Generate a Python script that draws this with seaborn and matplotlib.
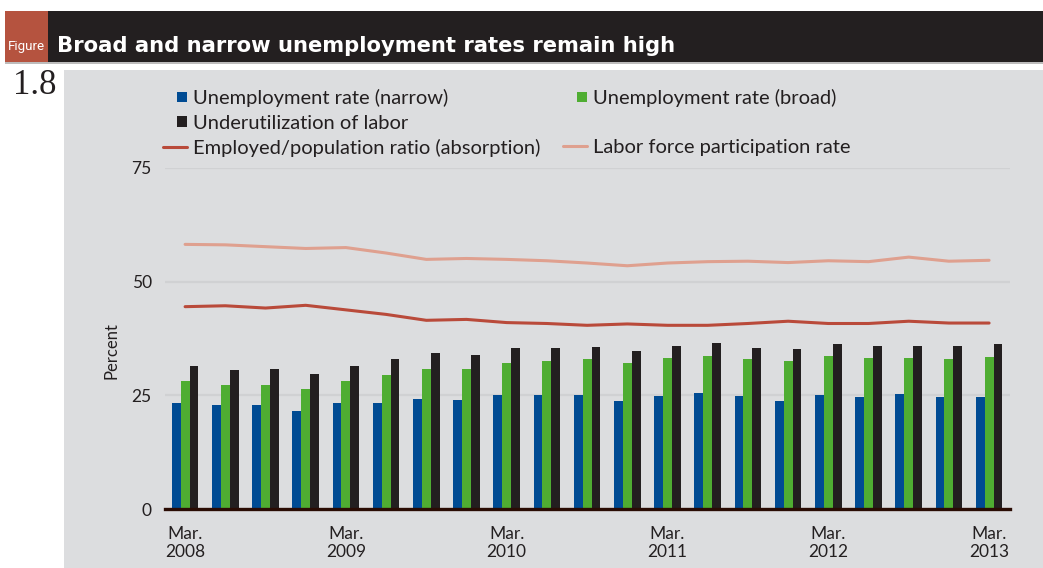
import numpy as np
import pandas as pd
import matplotlib
matplotlib.use("Agg")
import matplotlib.pyplot as plt
from matplotlib.patches import Rectangle
from matplotlib.lines import Line2D
from matplotlib.legend_handler import HandlerPatch
import seaborn as sns

# ---------------- data ----------------
quarters = ["Mar. 2008", "Jun. 2008", "Sep. 2008", "Dec. 2008",
            "Mar. 2009", "Jun. 2009", "Sep. 2009", "Dec. 2009",
            "Mar. 2010", "Jun. 2010", "Sep. 2010", "Dec. 2010",
            "Mar. 2011", "Jun. 2011", "Sep. 2011", "Dec. 2011",
            "Mar. 2012", "Jun. 2012", "Sep. 2012", "Dec. 2012",
            "Mar. 2013"]
narrow = [23.4, 22.9, 22.9, 21.6, 23.4, 23.4, 24.2, 24.0, 25.1, 25.1, 25.1,
          23.8, 24.9, 25.6, 24.9, 23.8, 25.1, 24.7, 25.4, 24.7, 24.7]
broad = [28.2, 27.3, 27.3, 26.4, 28.2, 29.5, 30.8, 30.8, 32.2, 32.6, 33.0,
         32.2, 33.2, 33.7, 33.0, 32.6, 33.7, 33.2, 33.2, 33.0, 33.5]
underutil = [31.5, 30.6, 30.8, 29.7, 31.5, 33.0, 34.4, 33.9, 35.5, 35.5, 35.7,
             34.8, 35.9, 36.6, 35.5, 35.3, 36.3, 35.9, 35.9, 35.9, 36.3]
absorption = [44.5, 44.7, 44.2, 44.8, 43.8, 42.8, 41.5, 41.7, 41.0, 40.8, 40.4,
              40.7, 40.4, 40.4, 40.8, 41.3, 40.8, 40.8, 41.3, 40.9, 40.9]
participation = [58.2, 58.1, 57.7, 57.3, 57.5, 56.3, 54.9, 55.1, 54.9, 54.6, 54.1,
                 53.5, 54.1, 54.4, 54.5, 54.2, 54.6, 54.4, 55.4, 54.5, 54.7]

bar_names = ["Unemployment rate (narrow)", "Unemployment rate (broad)",
             "Underutilization of labor"]
line_names = ["Employed/population ratio (absorption)",
              "Labor force participation rate"]
title = "Broad and narrow unemployment rates remain high"
yticks = [0, 25, 50, 75]

# ---------------- styles ----------------
BLUE, GREEN, BLACK = "#004b93", "#4fad32", "#231f20"
RED, SALMON = "#b94a3a", "#dfa08f"
BG = "#dcdddf"
TXT = "#231f20"

sns.set_theme(style="white")
plt.rcParams["font.family"] = ["Lato", "DejaVu Sans"]

W, H = 1043, 568
fig = plt.figure(figsize=(W / 100, H / 100), dpi=100)
fig.patch.set_facecolor("white")

def fx(px):
    return px / W

def fy(py):
    return 1 - py / H

# gray panel, title bar, red box (behind the axes)
fig.patches.append(Rectangle((fx(64), 0), fx(W) - fx(64), fy(70), transform=fig.transFigure,
                             facecolor=BG, edgecolor="none", zorder=-5))
fig.patches.append(Rectangle((fx(5), fy(62)), 1 - fx(5), fy(11) - fy(62), transform=fig.transFigure,
                             facecolor="#231f20", edgecolor="none", zorder=-5))
fig.patches.append(Rectangle((fx(5), fy(63.5)), 1 - fx(5), fy(62) - fy(63.5), transform=fig.transFigure,
                             facecolor="#bdbcbc", edgecolor="none", zorder=-5))
fig.patches.append(Rectangle((fx(5), fy(62)), fx(47.5) - fx(5), fy(11) - fy(62), transform=fig.transFigure,
                             facecolor="#b5533f", edgecolor="none", zorder=-4))

fig.text(fx(26.5), fy(46.5), "Figure", color="white", ha="center", va="center",
         fontsize=9.6, family=["Roboto", "DejaVu Sans"])
fig.text(fx(57), fy(46), title, color="white", ha="left", va="center",
         fontsize=15.2, fontweight="bold", family=["DejaVu Sans"])
fig.text(fx(13), fy(86), "1.8", color="#231f20", ha="left", va="center",
         fontsize=25, family=["Liberation Serif", "DejaVu Serif"])

# ---------------- axes ----------------
ax_left, ax_right, ax_bottom, ax_top = 165, 1010, 509, 168
ax = fig.add_axes([fx(ax_left), fy(ax_bottom), fx(ax_right) - fx(ax_left), fy(ax_top) - fy(ax_bottom)])
ax.set_facecolor("none")
ax.set_zorder(2)

df = pd.DataFrame({
    "quarter": np.repeat(quarters, 3),
    "series": bar_names * len(quarters),
    "value": np.ravel(np.column_stack([narrow, broad, underutil])),
})
sns.barplot(data=df, x="quarter", y="value", hue="series", hue_order=bar_names,
            palette=[BLUE, GREEN, BLACK], saturation=1, width=0.66, gap=0,
            ax=ax, legend=False, zorder=3, linewidth=0)

xpos = np.arange(len(quarters))
ldf = pd.DataFrame({"x": np.tile(xpos, 2),
                    "value": absorption + participation,
                    "series": np.repeat(line_names, len(quarters))})
sns.lineplot(data=ldf, x="x", y="value", hue="series", hue_order=line_names,
             palette=[RED, SALMON], linewidth=2.2, ax=ax, legend=False, zorder=4)

ax.set_xlim(-0.5, 20.52)
ax.set_ylim(0, 75)
ax.set_yticks(yticks)
ax.set_yticklabels([str(v) for v in yticks], fontsize=12.5, color=TXT)
tick_idx = [i for i, q in enumerate(quarters) if q.startswith("Mar.")]
ax.set_xticks(tick_idx)
ax.set_xticklabels([quarters[i].replace(" ", "\n") for i in tick_idx],
                   fontsize=12.5, color=TXT, linespacing=1.2)
ax.tick_params(axis="both", length=0)
ax.tick_params(axis="x", pad=12)
ax.tick_params(axis="y", pad=9.5)
ax.set_xlabel("")
ax.set_ylabel("Percent", fontsize=12, color=TXT)
ax.yaxis.set_label_coords(-0.054, 0.466)

ax.grid(axis="y", color="#d0d1d3", linewidth=1.6, zorder=1)
ax.grid(axis="x", visible=False)
ax.set_axisbelow(True)
for s in ["left", "right", "top"]:
    ax.spines[s].set_visible(False)
ax.spines["bottom"].set_color("#2a0c04")
ax.spines["bottom"].set_linewidth(2.4)
ax.spines["bottom"].set_zorder(5)

# ---------------- legend ----------------
class RightSquare(HandlerPatch):
    def create_artists(self, legend, orig_handle, xdescent, ydescent, width, height, fontsize, trans):
        s = height * 0.72
        p = Rectangle((width - xdescent - s, -ydescent + (height - s) / 2), s, s,
                      facecolor=orig_handle.get_facecolor(), edgecolor="none", transform=trans)
        return [p]

h_narrow = Rectangle((0, 0), 1, 1, facecolor=BLUE)
h_broad = Rectangle((0, 0), 1, 1, facecolor=GREEN)
h_under = Rectangle((0, 0), 1, 1, facecolor=BLACK)
h_abs = Line2D([], [], color=RED, linewidth=2.2)
h_lfp = Line2D([], [], color=SALMON, linewidth=2.2)
h_blank = Rectangle((0, 0), 1, 1, facecolor="none", edgecolor="none")

handles = [h_narrow, h_under, h_abs, h_broad, h_blank, h_lfp]
labels = [bar_names[0], bar_names[2], line_names[0], bar_names[1], "", line_names[1]]
leg = fig.legend(handles, labels, ncol=2, loc="upper left",
                 bbox_to_anchor=(fx(163), fy(89)), bbox_transform=fig.transFigure,
                 frameon=False, fontsize=14.5, handlelength=1.2, handletextpad=0.3,
                 columnspacing=1.1, labelspacing=0.37, borderpad=0, borderaxespad=0,
                 handler_map={Rectangle: RightSquare()})
for t in leg.get_texts():
    t.set_color(TXT)

fig.savefig("out.png", dpi=100)
